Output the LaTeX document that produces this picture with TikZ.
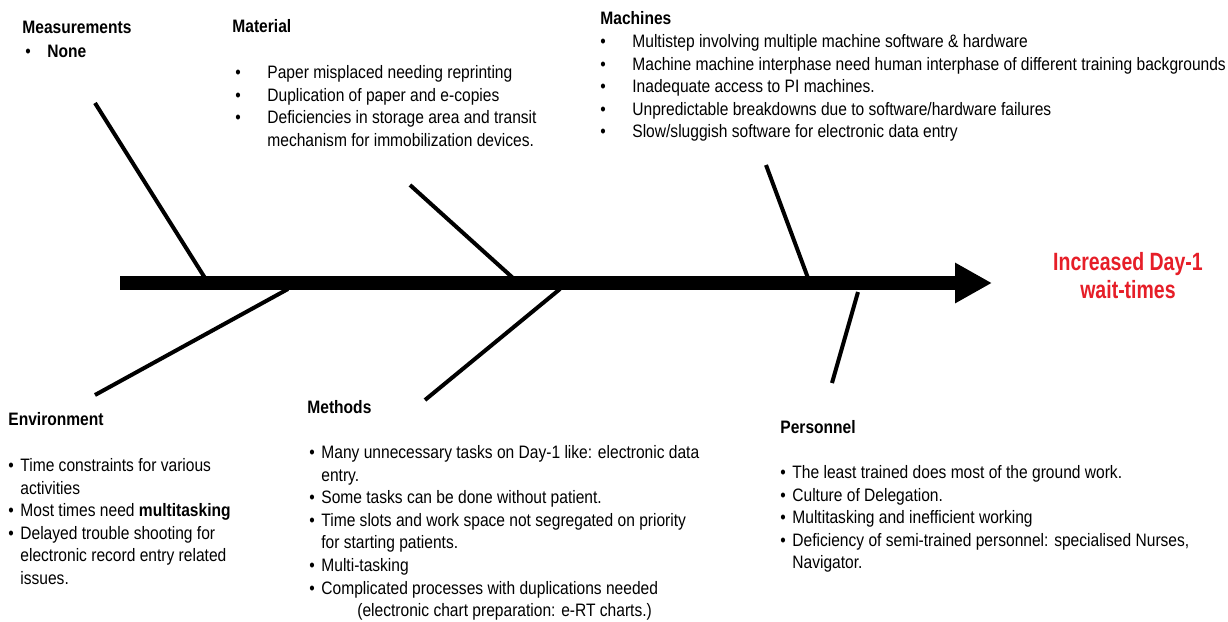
\documentclass[tikz,border=0pt]{standalone}
\usepackage{fontspec}
\setmainfont[FakeStretch=0.865]{Liberation Sans}
\newfontfamily\effectfont[FakeStretch=0.78]{Liberation Sans}
\usepackage{xcolor}
\usetikzlibrary{arrows.meta}

\definecolor{effectred}{RGB}{230,30,40}
\newcommand{\tabitem}{\makebox[16pt][l]{\textbullet}}
\newcommand{\dotitem}{\makebox[6pt][l]{\textbullet}}

\begin{document}
\begin{tikzpicture}[
    x=0.5pt, y=-0.5pt,
    head/.style={font=\bfseries\fontsize{9}{11}\selectfont, inner sep=0pt, anchor=west},
    causelist/.style={font=\fontsize{9}{11.3}\selectfont, align=left, inner sep=0pt, anchor=north west},
    effect/.style={font=\effectfont\bfseries\fontsize{12.5}{14}\selectfont, text=effectred, align=center, inner sep=0pt},
    bone/.style={line width=2pt}
  ]
  \useasboundingbox (0,0) rectangle (1228,622);

  % Spine
  \coordinate (tail) at (120,283);
  \coordinate (head) at (992,283);
  \draw[line width=7pt, -{Triangle[length=18.5pt, width=19pt]}] (tail) -- (head);
  \node[effect] (effect) at (1128,276) {Increased Day-1\\wait-times};

  % Bones
  \coordinate (meas top) at (95,103);   \coordinate (meas end) at (205,278);
  \coordinate (mat top)  at (410,185);  \coordinate (mat end)  at (513,278);
  \coordinate (mach top) at (766,165);  \coordinate (mach end) at (808,278);
  \coordinate (env end)  at (95,395);   \coordinate (env root) at (288,289);
  \coordinate (meth end) at (425,400);  \coordinate (meth root) at (560,289);
  \coordinate (pers end) at (832,383);  \coordinate (pers root) at (858,292);
  \draw[bone] (meas top) -- (meas end);
  \draw[bone] (mat top) -- (mat end);
  \draw[bone] (mach top) -- (mach end);
  \draw[bone] (env root) -- (env end);
  \draw[bone] (meth root) -- (meth end);
  \draw[bone] (pers root) -- (pers end);

  % Measurements
  \node[head] (meas) at (22,27) {Measurements};
  \node[head] (meas list) at (25,51) {\makebox[11pt][l]{\mdseries\textbullet}None};

  % Material
  \node[head] (mat) at (232,26) {Material};
  \node[causelist] (mat list) at (235,65) {%
    \tabitem Paper misplaced needing reprinting\\
    \tabitem Duplication of paper and e-copies\\
    \tabitem Deficiencies in storage area and transit\\
    \hspace*{16pt}mechanism for immobilization devices.};

  % Machines
  \node[head] (mach) at (600,18) {Machines};
  \node[causelist] (mach list) at (600,34) {%
    \tabitem Multistep involving multiple machine software \& hardware\\
    \tabitem Machine machine interphase need human interphase of different training backgrounds\\
    \tabitem Inadequate access to PI machines.\\
    \tabitem Unpredictable breakdowns due to software/hardware failures\\
    \tabitem Slow/sluggish software for electronic data entry};

  % Environment
  \node[head] (env) at (8,419) {Environment};
  \node[causelist] (env list) at (8,458) {%
    \dotitem Time constraints for various\\
    \hspace*{6pt}activities\\
    \dotitem Most times need \textbf{multitasking}\\
    \dotitem Delayed trouble shooting for\\
    \hspace*{6pt}electronic record entry related\\
    \hspace*{6pt}issues.};

  % Methods
  \node[head] (meth) at (307,407) {Methods};
  \node[causelist] (meth list) at (309,445) {%
    \dotitem Many unnecessary tasks on Day-1 like: electronic data\\
    \hspace*{6pt}entry.\\
    \dotitem Some tasks can be done without patient.\\
    \dotitem Time slots and work space not segregated on priority\\
    \hspace*{6pt}for starting patients.\\
    \dotitem Multi-tasking\\
    \dotitem Complicated processes with duplications needed\\
    \hspace*{24pt}(electronic chart preparation: e-RT charts.)};

  % Personnel
  \node[head] (pers) at (780,427) {Personnel};
  \node[causelist] (pers list) at (780,465) {%
    \dotitem The least trained does most of the ground work.\\
    \dotitem Culture of Delegation.\\
    \dotitem Multitasking and inefficient working\\
    \dotitem Deficiency of semi-trained personnel: specialised Nurses,\\
    \hspace*{6pt}Navigator.};
\end{tikzpicture}
\end{document}
